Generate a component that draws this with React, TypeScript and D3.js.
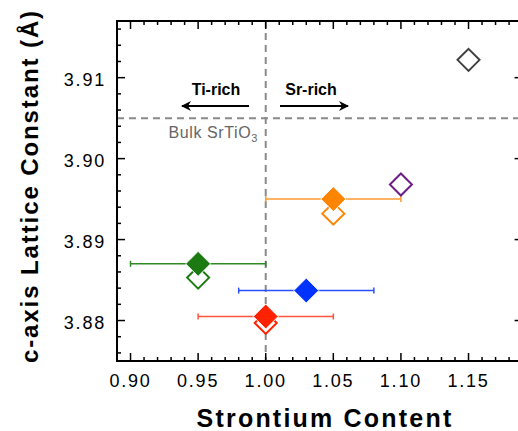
import React from "react";
import * as d3 from "d3";

const xTicks = [0.9, 0.95, 1.0, 1.05, 1.1, 1.15];
const xTickLabels = ["0.90", "0.95", "1.00", "1.05", "1.10", "1.15"];
const yTicks = [3.88, 3.89, 3.9, 3.91];
const yTickLabels = ["3.88", "3.89", "3.90", "3.91"];

// filled markers with x error bars
const filledX = [0.95, 1.03, 1.0, 1.05];
const filledY = [3.887, 3.8837, 3.8805, 3.895];
const filledXLo = [0.9, 0.98, 0.95, 1.0];
const filledXHi = [1.0, 1.08, 1.05, 1.1];
const filledColor = ["#1b7a10", "#0033ff", "#ff2200", "#ff8500"];
const errColor = ["#2f8a25", "#2b50ff", "#ff5540", "#ff9a30"];

// open markers
const openX = [1.15, 1.1, 1.05, 0.95, 1.0];
const openY = [3.9122, 3.8968, 3.8932, 3.8853, 3.8797];
const openColor = ["#404040", "#6e1f87", "#ff8500", "#1b7a10", "#ff2200"];

const bulkC = 3.905;
const stoich = 1.0;

const W = 518, H = 431;
const L = 117, T = 21, B = 361;

export default function App() {
  const x = d3.scaleLinear().domain([0.89, 1.19]).range([L, L + 0.3 * 1352]);
  const y = d3.scaleLinear().domain([3.875, 3.917]).range([B, T]);
  const R = x(1.19);
  const xMinor = d3.range(0.89, 1.1901, 0.01).map((v) => +v.toFixed(3));
  const yMinor = d3.range(3.876, 3.9171, 0.002).map((v) => +v.toFixed(3));
  const isMajX = (v: number) => xTicks.some((t) => Math.abs(t - v) < 1e-6);
  const isMajY = (v: number) => yTicks.some((t) => Math.abs(t - v) < 1e-6);
  const dia = (cx: number, cy: number, r: number) =>
    `M${cx},${cy - r}L${cx + r},${cy}L${cx},${cy + r}L${cx - r},${cy}Z`;
  const font = "Arial, 'Liberation Sans', Helvetica, sans-serif";

  return (
    <svg width={W} height={H} style={{ position: "absolute", left: 0, top: 0 }} fontFamily={font}>
      <defs>
        <marker id="ah" viewBox="0 0 10 10" refX="9" refY="5" markerWidth="5" markerHeight="5" orient="auto-start-reverse">
          <path d="M0,0L10,5L0,10L3,5Z" fill="#000" />
        </marker>
      </defs>
      <rect width={W} height={H} fill="#fff" />
      {/* reference lines */}
      <line x1={x(stoich)} x2={x(stoich)} y1={T} y2={B} stroke="#8a8a8a" strokeWidth={2} strokeDasharray="7,5" />
      <line x1={L} x2={R} y1={y(bulkC)} y2={y(bulkC)} stroke="#8a8a8a" strokeWidth={2} strokeDasharray="7,5" />
      {/* annotations */}
      <text x={216} y={95} textAnchor="middle" fontSize={16} fontWeight="bold">Ti-rich</text>
      <text x={311} y={95} textAnchor="middle" fontSize={16} fontWeight="bold">Sr-rich</text>
      <line x1={249} x2={182} y1={106} y2={106} stroke="#000" strokeWidth={2} markerEnd="url(#ah)" />
      <line x1={280} x2={348} y1={106} y2={106} stroke="#000" strokeWidth={2} markerEnd="url(#ah)" />
      <text x={258} y={138} textAnchor="end" fontSize={16} fill="#666" letterSpacing={0.6}>
        Bulk SrTiO<tspan fontSize={11} dy={4}>3</tspan>
      </text>
      {/* error bars */}
      {filledX.map((_, i) => (
        <g key={"e" + i} stroke={errColor[i]} strokeWidth={1.5}>
          <line x1={x(filledXLo[i])} x2={x(filledXHi[i])} y1={y(filledY[i])} y2={y(filledY[i])} />
          <line x1={x(filledXLo[i])} x2={x(filledXLo[i])} y1={y(filledY[i]) - 3} y2={y(filledY[i]) + 3} />
          <line x1={x(filledXHi[i])} x2={x(filledXHi[i])} y1={y(filledY[i]) - 3} y2={y(filledY[i]) + 3} />
        </g>
      ))}
      {/* open markers */}
      {openX.map((v, i) => (
        <path key={"o" + i} d={dia(x(v), y(openY[i]), 11)} fill="#fff" stroke={openColor[i]} strokeWidth={2} />
      ))}
      {/* filled markers */}
      {filledX.map((v, i) => (
        <path key={"f" + i} d={dia(x(v), y(filledY[i]), 12.5)} fill={filledColor[i]} stroke="#fff" strokeWidth={1} />
      ))}
      {/* ticks */}
      {xMinor.map((v) => {
        const len = isMajX(v) ? 8 : 4;
        return (
          <g key={"xt" + v} stroke="#000" strokeWidth={1.5}>
            <line x1={x(v)} x2={x(v)} y1={B} y2={B - len} />
            <line x1={x(v)} x2={x(v)} y1={T} y2={T + len} />
          </g>
        );
      })}
      {yMinor.map((v) => {
        const len = isMajY(v) ? 8 : 4;
        return (
          <g key={"yt" + v} stroke="#000" strokeWidth={1.5}>
            <line x1={L} x2={L + len} y1={y(v)} y2={y(v)} />
            <line x1={R} x2={R - len} y1={y(v)} y2={y(v)} />
          </g>
        );
      })}
      {/* frame */}
      <rect x={L} y={T} width={R - L} height={B - T} fill="none" stroke="#000" strokeWidth={2} />
      {/* tick labels */}
      {xTicks.map((v, i) => (
        <text key={"xl" + i} x={x(v)} y={387} textAnchor="middle" fontSize={18} letterSpacing={1.8}>
          {xTickLabels[i]}
        </text>
      ))}
      {yTicks.map((v, i) => (
        <text key={"yl" + i} x={106} y={y(v) + 8} textAnchor="end" fontSize={18} letterSpacing={1.8}>
          {yTickLabels[i]}
        </text>
      ))}
      {/* axis titles */}
      <text x={325} y={427} textAnchor="middle" fontSize={25} fontWeight="bold" letterSpacing={2.2}>
        Strontium Content
      </text>
      <text transform={`translate(38,186) rotate(-90)`} textAnchor="middle" fontSize={24} fontWeight="bold" letterSpacing={1.9}>
        c-axis Lattice Constant (Å)
      </text>
    </svg>
  );
}
